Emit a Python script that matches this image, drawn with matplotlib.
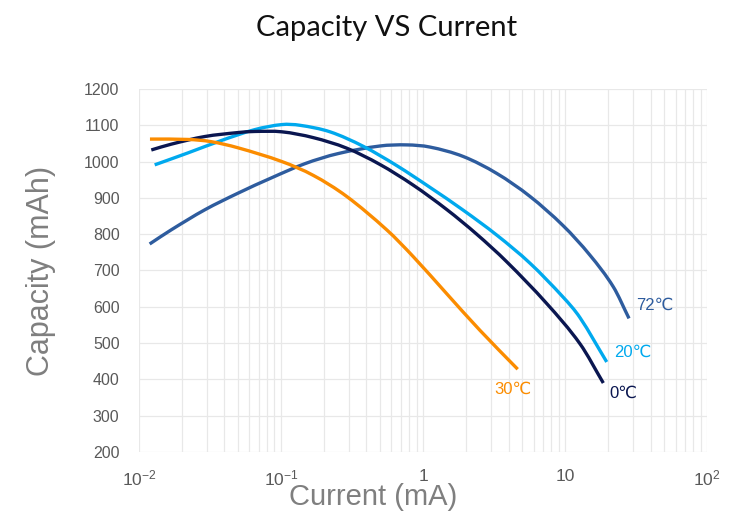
import matplotlib
matplotlib.use("Agg")
import matplotlib.pyplot as plt
from matplotlib.path import Path
from matplotlib.patches import PathPatch
import numpy as np

# Capacity vs current, per temperature
cur_72 = [0.01189, 0.01688, 0.02902, 0.0498, 0.08545, 0.1468, 0.252, 0.498, 0.7679,
          1.12, 1.922, 3.319, 5.669, 9.727, 15.0, 21.88, 28.23]
cap_72 = [773, 812, 867, 913, 955, 994, 1022, 1043, 1046,
          1040, 1014, 967, 904, 823, 742, 655, 568]

cur_20 = [0.0129, 0.02214, 0.03798, 0.06529, 0.1016, 0.136, 0.2214, 0.3798, 0.6529,
          1.12, 1.922, 3.319, 5.669, 9.727, 12.75, 19.67]
cap_20 = [991, 1024, 1058, 1088, 1102, 1100, 1082, 1042, 989,
          929, 866, 797, 720, 626, 570, 448]

cur_0 = [0.01221, 0.01688, 0.02902, 0.0498, 0.06529, 0.1016, 0.1689, 0.2902, 0.498,
         0.8545, 1.469, 2.389, 3.886, 7.431, 12.75, 18.61]
cap_0 = [1032, 1048, 1069, 1080, 1083, 1082, 1066, 1037, 992,
         935, 868, 800, 724, 609, 498, 390]

cur_30 = [0.01195, 0.02214, 0.03214, 0.0498, 0.1016, 0.1689, 0.2902, 0.5553, 0.8545,
          1.469, 2.52, 4.644]
cap_30 = [1062, 1061, 1055, 1038, 1000, 962, 904, 812, 738,
          636, 535, 428]

series = [
    ("72℃", cur_72, cap_72, "#2e5c9e", (31.6, 605)),
    ("20℃", cur_20, cap_20, "#00a9ee", (22.1, 475)),
    ("0℃", cur_0, cap_0, "#0a1650", (20.4, 362)),
    ("30℃", cur_30, cap_30, "#fb8c00", (3.16, 373)),
]

xticks = [0.01, 0.1, 1, 10, 100]
xticklabels = ["$10^{-2}$", "$10^{-1}$", "1", "10", "$10^{2}$"]
yticks = list(range(200, 1201, 100))


def smooth_path(x, y):
    """Cubic Hermite curve through the points, in log-x space, as a Bezier path."""
    lx = np.log10(x)
    y = np.asarray(y, float)
    n = len(lx)
    m = np.empty(n)
    m[0] = (y[1] - y[0]) / (lx[1] - lx[0])
    m[-1] = (y[-1] - y[-2]) / (lx[-1] - lx[-2])
    m[1:-1] = (y[2:] - y[:-2]) / (lx[2:] - lx[:-2])
    verts = [(x[0], y[0])]
    codes = [Path.MOVETO]
    for i in range(n - 1):
        d = (lx[i + 1] - lx[i]) / 3
        c1 = (lx[i] + d, y[i] + d * m[i])
        c2 = (lx[i + 1] - d, y[i + 1] - d * m[i + 1])
        for c in (c1, c2, (lx[i + 1], y[i + 1])):
            verts.append((10 ** c[0], c[1]))
            codes.append(Path.CURVE4)
    return Path(verts, codes)


plt.rcParams['font.family'] = ['Liberation Sans', 'DejaVu Sans']
plt.rcParams['mathtext.fontset'] = 'custom'
plt.rcParams['mathtext.rm'] = 'Liberation Sans'
plt.rcParams['mathtext.it'] = 'Liberation Sans'

fig = plt.figure(figsize=(7.5, 5.31), dpi=100)
ax = fig.add_axes([0.1853, 0.1488, 0.7574, 0.6836])

for label, x, y, color, pos in series:
    ax.add_patch(PathPatch(smooth_path(x, y), fill=False, edgecolor=color,
                           lw=2.4, capstyle='butt'))
    ax.text(pos[0], pos[1], label, color=color, fontsize=12, va='center', ha='left')

ax.set_xscale('log')
ax.set_xlim(0.01, 100)
ax.set_ylim(200, 1200)
ax.set_xticks(xticks)
ax.set_xticklabels(xticklabels)
ax.set_yticks(yticks)
ax.grid(True, which='both', color='#e8e8e8', lw=0.9)
ax.set_axisbelow(True)
for s in ax.spines.values():
    s.set_visible(False)
ax.tick_params(which='both', length=0, colors='#595959', labelsize=11.5)
ax.tick_params(axis='x', pad=12, labelsize=12.5)
ax.tick_params(axis='y', pad=14)

ax.set_xlabel("Current (mA)", fontsize=21, color='#7f7f7f')
ax.xaxis.set_label_coords(0.412, -0.085)
ax.set_ylabel("Capacity (mAh)", fontsize=22, color='#7f7f7f', labelpad=20)

fig.text(0.515, 0.948, "Capacity VS Current", ha='center', va='center',
         fontsize=21, color='#111111', family=['Lato', 'DejaVu Sans'])

fig.savefig("out.png", dpi=100)
